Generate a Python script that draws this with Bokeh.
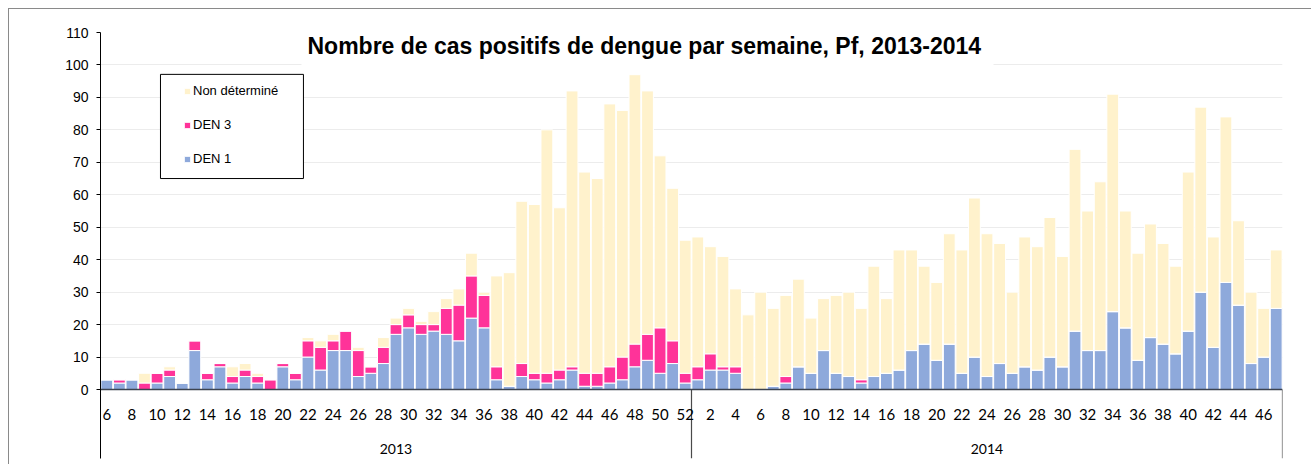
from bokeh.plotting import figure
from bokeh.models import (Range1d, FixedTicker, LinearAxis, Legend, LegendItem,
                          Label, BoxAnnotation, ColumnDataSource)
from bokeh.embed import file_html
from bokeh.resources import INLINE

# ---- data ----
weeks_2013 = list(range(6, 53))
weeks_2014 = list(range(1, 48))

den1_2013 = [3, 2, 3, 0, 2, 4, 2, 12, 3, 7, 2, 4, 2, 0, 7, 3, 10, 6, 12, 12, 4, 5, 8, 17,
             19, 17, 18, 17, 15, 22, 19, 3, 1, 4, 3, 2, 3, 6, 1, 1, 2, 3, 7, 9, 5, 8, 2]
den3_2013 = [0, 1, 0, 2, 3, 2, 0, 3, 2, 1, 2, 2, 2, 3, 1, 2, 5, 7, 3, 6, 8, 2, 5, 3,
             4, 3, 2, 8, 11, 13, 10, 4, 0, 4, 2, 3, 3, 1, 4, 4, 5, 7, 7, 8, 14, 7, 3]
nd_2013 = [0, 0, 0, 3, 0, 1, 0, 0, 0, 0, 3, 2, 1, 0, 0, 0, 1, 2, 2, 0, 1, 0, 3, 2,
           2, 1, 4, 3, 5, 7, 1, 28, 35, 50, 52, 75, 50, 85, 62, 60, 81, 76, 83, 75, 53, 47, 41]

den1_2014 = [3, 6, 6, 5, 0, 0, 1, 2, 7, 5, 12, 5, 4, 2, 4, 5, 6, 12, 14, 9, 14, 5, 10, 4,
             8, 5, 7, 6, 10, 7, 18, 12, 12, 24, 19, 9, 16, 14, 11, 18, 30, 13, 33, 26, 8, 10, 25]
den3_2014 = [4, 5, 1, 2, 0, 0, 0, 2, 0, 0, 0, 0, 0, 1, 0, 0, 0, 0, 0, 0, 0, 0, 0, 0,
             0, 0, 0, 0, 0, 0, 0, 0, 0, 0, 0, 0, 0, 0, 0, 0, 0, 0, 0, 0, 0, 0, 0]
nd_2014 = [40, 33, 34, 24, 23, 30, 24, 25, 27, 17, 16, 24, 26, 22, 34, 23, 37, 31, 24, 24, 34, 38, 49, 44,
           37, 25, 40, 38, 43, 34, 56, 43, 52, 67, 36, 33, 35, 31, 27, 49, 57, 34, 51, 26, 22, 15, 18]

years = ["2013", "2014"]
series_labels = ["DEN 1", "DEN 3", "Non déterminé"]
title_text = "Nombre de cas positifs de dengue par semaine, Pf,  2013-2014"

# ---- build ----
weeks = weeks_2013 + weeks_2014
n13, n14 = len(weeks_2013), len(weeks_2014)
n = n13 + n14
xs = list(range(n))
src = ColumnDataSource(dict(x=xs, den1=den1_2013 + den1_2014,
                            den3=den3_2013 + den3_2014, nd=nd_2013 + nd_2014))

frame_css = ("linear-gradient(#8a8a8a, #8a8a8a) 8px 8px / 100% 1px no-repeat, "
             "linear-gradient(#8a8a8a, #8a8a8a) 8px 8px / 1px 100% no-repeat, white")

Y0 = -21.26
p = figure(width=1311, height=464, output_backend="svg", toolbar_location=None,
           x_range=Range1d(-0.5, n - 0.5), y_range=Range1d(Y0, 110),
           min_border_left=100, min_border_right=29, min_border_top=32, min_border_bottom=6,
           styles={"background": frame_css})
p.outline_line_color = None
p.background_fill_color = "white"
p.border_fill_color = None

colors = ["#8EA9DB", "#FF3399", "#FFF2CC"]
rs = p.vbar_stack(["den1", "den3", "nd"], x="x", width=0.94, fill_color=colors,
                  line_color="white", line_width=1, source=src)

# y axis
ya = p.yaxis[0]
ya.ticker = FixedTicker(ticks=list(range(0, 111, 10)))
ya.axis_line_color = "black"
ya.major_tick_out = 4
ya.major_tick_in = 0
ya.major_tick_line_color = "black"
ya.minor_tick_line_color = None
ya.major_label_standoff = 8
ya.major_label_text_font = "Liberation Sans"
ya.major_label_text_font_size = "14px"
ya.major_label_text_color = "black"
p.ygrid.grid_line_color = "#ececec"
p.xgrid.visible = False

# x axis (week numbers)
xa = p.xaxis[0]
xa.fixed_location = 0
tick_pos = [i for i, w in enumerate(weeks) if w % 2 == 0]
xa.ticker = FixedTicker(ticks=tick_pos)
xa.major_label_overrides = {i: str(weeks[i]) for i in tick_pos}
xa.axis_line_color = "#3c4350"
xa.axis_line_width = 1.5
xa.major_tick_line_color = None
xa.minor_tick_line_color = None
xa.major_label_standoff = 13
xa.major_label_text_font = "Lato"
xa.major_label_text_font_size = "15px"
xa.major_label_text_color = "black"

# year group axis
ga = LinearAxis(fixed_location=0, ticker=FixedTicker(ticks=[(n13 - 1) / 2, n13 + (n14 - 1) / 2]),
                axis_line_color=None, major_tick_line_color=None, minor_tick_line_color=None,
                major_label_standoff=48, major_label_text_font="Lato",
                major_label_text_font_size="14px", major_label_text_color="black")
ga.major_label_overrides = {(n13 - 1) / 2: years[0], n13 + (n14 - 1) / 2: years[1]}
p.add_layout(ga, "below")

# separators between years
p.segment(x0=[n13 - 0.5, n - 0.5], y0=[0, 0], x1=[n13 - 0.5, n - 0.5], y1=[Y0, Y0],
          line_color="#4a4a4a", line_width=1.2)

# legend box
box = BoxAnnotation(left=4.27, right=15.64, bottom=65.0, top=97.1, fill_color="white",
                    fill_alpha=1, line_color="black", line_width=1, line_alpha=1)
p.add_layout(box)

legend = Legend(items=[LegendItem(label=series_labels[2], renderers=[rs[2]]),
                       LegendItem(label=series_labels[1], renderers=[rs[1]]),
                       LegendItem(label=series_labels[0], renderers=[rs[0]])],
                location=(83, 292), padding=0, margin=0, spacing=19,
                glyph_width=8, glyph_height=8, label_height=12, label_standoff=2,
                label_text_font="Liberation Sans", label_text_font_size="13px",
                label_text_color="black",
                border_line_color=None, background_fill_alpha=0)
p.add_layout(legend)

title = Label(x=43, y=105.7, text=title_text, text_align="center", text_baseline="middle",
              text_font="Liberation Sans", text_font_style="bold", text_font_size="23px",
              text_color="black", background_fill_color="white", padding=6)
p.add_layout(title)

open("out.html", "w").write(file_html(p, INLINE))
